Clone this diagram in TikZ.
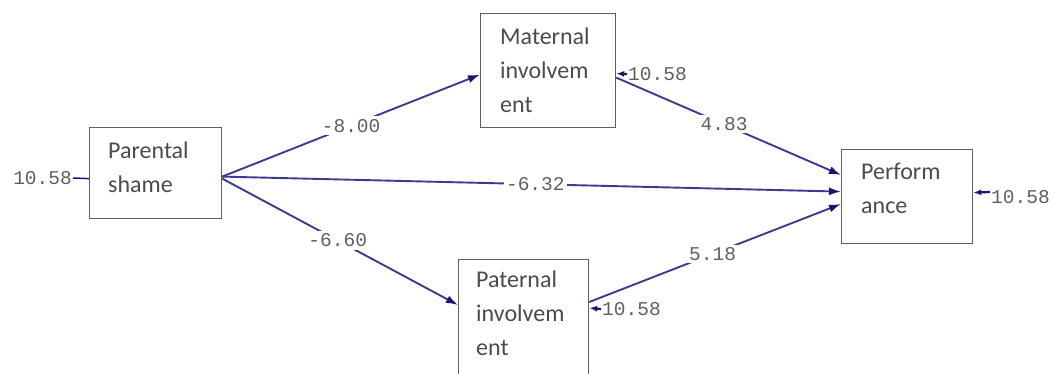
\documentclass[tikz,border=0pt]{standalone}
\usepackage{fontspec}
\setmainfont{Carlito}
\newfontfamily\monofont{Liberation Mono}
\usetikzlibrary{arrows.meta}
\definecolor{linec}{RGB}{60,60,140}
\definecolor{headc}{RGB}{22,22,115}
\definecolor{boxc}{RGB}{95,95,95}
\definecolor{txtc}{RGB}{75,75,75}
\definecolor{numc}{RGB}{95,95,95}
\begin{document}
\begin{tikzpicture}[x=1pt,y=-1pt,
  box/.style={draw=boxc,line width=1.2pt,fill=white,inner sep=0pt,anchor=north west},
  boxtext/.style={anchor=north west,inner sep=0pt,align=left,text=txtc,font=\fontsize{24}{34}\selectfont},
  conn/.style={draw=linec,line width=1.9pt,-{Latex[length=12pt,width=8pt,color=headc]}},
  errconn/.style={draw=headc,line width=2.2pt,-{Latex[length=8pt,width=6pt,color=headc]}},
  coef/.style={fill=white,inner sep=2.5pt,text=numc,font=\monofont\fontsize{19.5}{20}\selectfont},
  errnum/.style={inner sep=1pt,text=numc,font=\monofont\fontsize{19.5}{20}\selectfont}
]
\clip (0,0) rectangle (1054,373);
\fill[white] (0,0) rectangle (1054,373);
% boxes
\node[box,minimum width=132pt,minimum height=91pt] (ps) at (89,127) {};
\node[box,minimum width=135pt,minimum height=114pt] (ms) at (480,13) {};
\node[box,minimum width=130pt,minimum height=130pt] (pa) at (458,259) {};
\node[box,minimum width=131pt,minimum height=94pt] (pf) at (841,149) {};
% box texts
\node[boxtext] (pst) at ([shift={(19,15)}]ps.north west) {Parental\\shame};
\node[boxtext] (mst) at ([shift={(20,15)}]ms.north west) {Maternal\\involvem\\ent};
\node[boxtext] (pat) at ([shift={(18,12)}]pa.north west) {Paternal\\involvem\\ent};
\node[boxtext] (pft) at ([shift={(20,14)}]pf.north west) {Perform\\ance};
% paths
\draw[conn] ([shift={(0,3.5)}]ps.east) -- node[coef,pos=0.5] (c1) {-8.00} ([shift={(0,4)}]ms.west);
\draw[conn] ([shift={(0,3.5)}]ps.east) -- node[coef,pos=0.506] (c2) {-6.32} ([shift={(0,-5)}]pf.west);
\draw[conn] ([shift={(0,5.5)}]ps.east) -- node[coef,pos=0.49] (c3) {-6.60} ([shift={(0,46)}]pa.north west);
\draw[conn] ([shift={(0,7)}]ms.east) -- node[coef,pos=0.48] (c4) {4.83} ([shift={(0,26)}]pf.north west);
\draw[conn] ([shift={(0,43)}]pa.north east) -- node[coef,pos=0.49] (c5) {5.18} ([shift={(0,55)}]pf.north west);
% error terms
\node[errnum,anchor=east] (e1) at (73,178) {10.58};
\draw[draw=headc,line width=1.5pt] (e1.east) -- ([shift={(0,5.5)}]ps.west);
\node[errnum,anchor=west] (e2) at (627,74) {10.58};
\draw[errconn] (e2.west) -- ([shift={(0,3)}]ms.east);
\node[errnum,anchor=west] (e3) at (601,309) {10.58};
\draw[errconn] (e3.west) -- ([shift={(0,49)}]pa.north east);
\node[errnum,anchor=west] (e4) at (990,197) {10.58};
\draw[errconn] ([shift={(0,-5)}]e4.west) -- ([shift={(0,-4)}]pf.east);
\end{tikzpicture}
\end{document}
